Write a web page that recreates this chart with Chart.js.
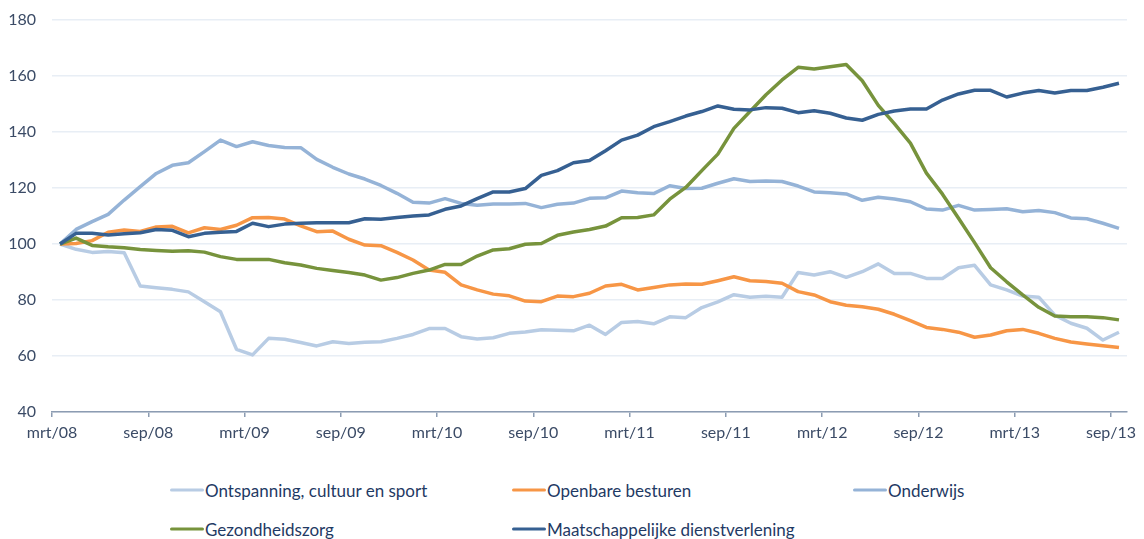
<!DOCTYPE html>
<html>
<head>
<meta charset="utf-8">
<script src="https://cdn.jsdelivr.net/npm/chart.js@4.4.1/dist/chart.umd.min.js"></script>
<style>
  body { margin: 0; background: #fff; }
  #wrap { position: relative; width: 1144px; height: 539px; }
  #chart { position: absolute; left: 0; top: 0; }
  .item { position: absolute; display: flex; align-items: center; font-family: Lato, sans-serif;
          font-size: 17px; color: #1F3A64; white-space: nowrap; transform: translateY(-50%); }
  .swatch { display: inline-block; width: 34px; height: 3.5px; margin-right: 1px; border-radius: 2px; }
</style>
</head>
<body>
<div id="wrap">
  <canvas id="chart" width="1144" height="455"></canvas>
  <div id="legend"></div>
</div>
<script>
// categories: monthly, mrt/08 .. sep/13
const monthNames = ["jan", "feb", "mrt", "apr", "mei", "jun", "jul", "aug", "sep", "okt", "nov", "dec"];
const months = [];
for (let i = 0; i < 67; i++) {
  const m = 2 + i;
  months.push(monthNames[m % 12] + "/" + String(8 + Math.floor(m / 12)).padStart(2, "0"));
}

const ontspanning = [100, 98.1, 97, 97.3, 96.9, 85, 84.4, 83.8, 82.9, 79.4, 75.8,
  62.4, 60.4, 66.3, 66, 64.8, 63.6, 65.1, 64.5, 64.9, 65.1, 66.3,
  67.7, 69.8, 69.8, 66.9, 66.1, 66.5, 68.1, 68.6, 69.4, 69.2, 69,
  71, 67.7, 72, 72.3, 71.5, 74, 73.7, 77.3, 79.3, 81.9, 81,
  81.3, 81, 89.8, 88.9, 90.1, 88.1, 90.1, 92.9, 89.5, 89.5, 87.7,
  87.7, 91.5, 92.4, 85.4, 83.6, 81.4, 81, 74.6, 71.7, 69.9, 65.7, 68.5];

const openbare = [100, 100.2, 101.2, 104.2, 105, 104.5, 106.1, 106.3, 104, 105.8, 105.2,
  106.7, 109.4, 109.5, 108.9, 106.5, 104.4, 104.6, 101.7, 99.6, 99.4, 97,
  94.3, 90.7, 89.9, 85.4, 83.6, 82.1, 81.5, 79.6, 79.4, 81.4, 81.2,
  82.4, 85, 85.6, 83.6, 84.5, 85.4, 85.7, 85.6, 86.9, 88.3, 86.9,
  86.6, 86, 83, 81.8, 79.4, 78.1, 77.6, 76.7, 74.9, 72.6, 70.2,
  69.5, 68.5, 66.7, 67.5, 69, 69.5, 68.1, 66.3, 65, 64.3, 63.7, 63];

const onderwijs = [100, 105.2, 108, 110.6, 115.7, 120.5, 125.2, 128.1, 129, 133, 137.1,
  134.8, 136.5, 135.2, 134.5, 134.4, 130.2, 127.4, 125, 123.2, 120.9, 118.1,
  114.9, 114.6, 116.2, 114.5, 113.8, 114.3, 114.3, 114.5, 113, 114.2, 114.6,
  116.3, 116.5, 118.9, 118.3, 118, 120.8, 119.8, 119.9, 121.7, 123.3, 122.3,
  122.5, 122.3, 120.7, 118.6, 118.3, 117.9, 115.6, 116.7, 116.1, 115.1, 112.5,
  112.1, 113.8, 112.1, 112.3, 112.6, 111.5, 112, 111.2, 109.3, 109, 107.4, 105.6];

const gezondheid = [100, 102.1, 99.5, 99, 98.7, 98, 97.7, 97.4, 97.6, 97.1, 95.5,
  94.5, 94.5, 94.5, 93.3, 92.5, 91.3, 90.5, 89.8, 88.9, 87.1, 88,
  89.5, 90.7, 92.7, 92.7, 95.7, 97.9, 98.3, 99.9, 100.2, 103.1, 104.3,
  105.2, 106.4, 109.4, 109.5, 110.4, 116, 120.2, 126.2, 132.1, 141.3, 147.3,
  153.3, 158.6, 163.1, 162.5, 163.3, 164.1, 158.3, 149.5, 143, 136, 125.3,
  117.8, 109.2, 100.5, 91.5, 86.5, 81.8, 77.4, 74.3, 74, 74, 73.7, 72.9];

const maatschappelijk = [100, 103.8, 103.8, 103.2, 103.7, 104, 105.2, 104.9, 102.6, 103.8, 104.2,
  104.5, 107.4, 106.2, 107.1, 107.4, 107.6, 107.6, 107.6, 109, 108.8, 109.5,
  110, 110.4, 112.4, 113.6, 116.2, 118.6, 118.6, 119.8, 124.5, 126.2, 129,
  129.8, 133.3, 137.1, 138.9, 141.9, 143.7, 145.7, 147.3, 149.3, 148.1, 147.9,
  148.7, 148.5, 146.9, 147.6, 146.7, 145, 144.2, 146.3, 147.5, 148.2, 148.2,
  151.4, 153.6, 154.9, 154.9, 152.5, 153.9, 154.8, 153.9, 154.8, 154.8, 156, 157.4];

// tick labels every 6 months, placed at the start of the month
const tickMonths = [0, 6, 12, 18, 24, 30, 36, 42, 48, 54, 60, 66];
const yTicks = [40, 60, 80, 100, 120, 140, 160, 180];

const series = [
  { label: "Ontspanning, cultuur en sport", data: ontspanning, color: "#B8CCE4" },
  { label: "Openbare besturen", data: openbare, color: "#F79646" },
  { label: "Onderwijs", data: onderwijs, color: "#95B3D7" },
  { label: "Gezondheidszorg", data: gezondheid, color: "#77933C" },
  { label: "Maatschappelijke dienstverlening", data: maatschappelijk, color: "#366092" },
];

const axisText = "#3B4B66";
const font = { family: "Lato, sans-serif", size: 16 };

const ctx = document.getElementById("chart").getContext("2d");
new Chart(ctx, {
  type: "line",
  data: {
    datasets: series.map((s, i) => ({
      label: s.label,
      data: s.data.map((v, k) => ({ x: k, y: v })),
      borderColor: s.color,
      backgroundColor: s.color,
      borderWidth: 3.5,
      pointRadius: 0,
      tension: 0,
      borderJoinStyle: "round",
      order: series.length - i,
    })),
  },
  options: {
    responsive: false,
    animation: false,
    layout: { padding: { top: 20, right: 17, bottom: 0, left: 0 } },
    plugins: { legend: { display: false }, tooltip: { enabled: false } },
    scales: {
      x: {
        type: "linear",
        min: -0.5,
        max: 66.5,
        afterBuildTicks: (scale) => {
          scale.ticks = tickMonths.map((m) => ({ value: m - 0.5 }));
        },
        afterFit: (scale) => { scale.height = 43; },
        ticks: {
          color: axisText,
          font: font,
          padding: 6,
          maxRotation: 0,
          autoSkip: false,
          callback: (v) => months[Math.round(v + 0.5)],
        },
        grid: { drawOnChartArea: false, drawTicks: true, tickLength: 5, color: "#8C9CB2", lineWidth: 1.5 },
        border: { display: true, color: "#8C9CB2", width: 1.5 },
      },
      y: {
        min: 40,
        max: 180,
        afterBuildTicks: (scale) => {
          scale.ticks = yTicks.map((v) => ({ value: v }));
        },
        afterFit: (scale) => {
          scale.width = 52;
          scale.paddingTop = 0;
          scale.paddingBottom = 0;
        },
        ticks: { color: axisText, font: font, padding: 16 },
        grid: { color: "#E8EEF5", lineWidth: 1.5, drawTicks: false },
        border: { display: false },
      },
    },
  },
});

// legend: three columns, two rows
const legendPos = [[170, 490], [512, 490], [853, 490], [170, 529], [512, 529]];
const legend = document.getElementById("legend");
series.forEach((s, i) => {
  const el = document.createElement("div");
  el.className = "item";
  el.style.left = legendPos[i][0] + "px";
  el.style.top = legendPos[i][1] + "px";
  const sw = document.createElement("span");
  sw.className = "swatch";
  sw.style.background = s.color;
  el.appendChild(sw);
  el.appendChild(document.createTextNode(s.label));
  legend.appendChild(el);
});
</script>
</body>
</html>
